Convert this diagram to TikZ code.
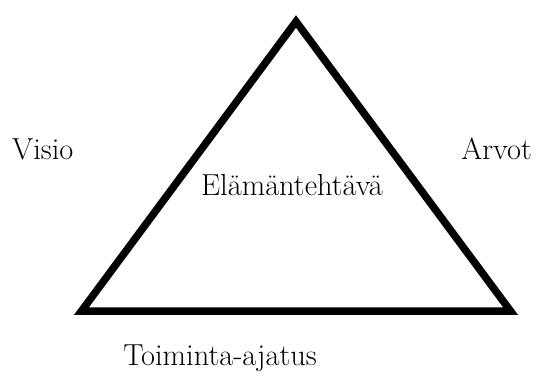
\documentclass[tikz,border=0pt]{standalone}
\usepackage{fontspec}
\begin{document}
\begin{tikzpicture}[x=1bp,y=-1bp,
  lbl/.style={inner sep=0pt, font=\fontsize{30.4bp}{36bp}\selectfont},
  tri/.style={line width=7.5bp, line join=miter, draw=black}]
\useasboundingbox (0,0) rectangle (537,381);
\coordinate (A) at (296,21.5);
\coordinate (L) at (81.5,311);
\coordinate (R) at (510.5,311);
\draw[tri] (A) -- (L) -- (R) -- cycle;
\node[lbl, anchor=base] (center) at (292,195) {Elämäntehtävä};
\node[lbl, anchor=base west] (visio) at (12,159) {Visio};
\node[lbl, anchor=base east] (arvot) at (532,159) {Arvot};
\node[lbl, anchor=base] (toiminta) at (220,365) {Toiminta-ajatus};
\end{tikzpicture}
\end{document}
